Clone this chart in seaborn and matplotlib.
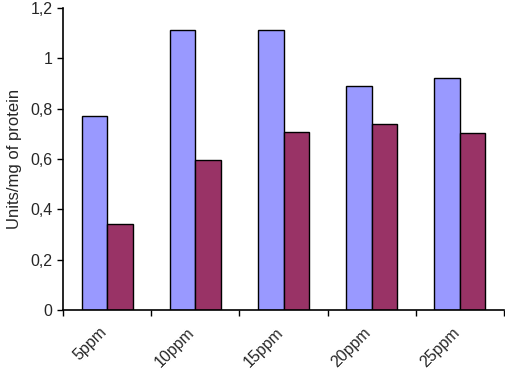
import pandas as pd
import matplotlib
matplotlib.use('Agg')
import matplotlib.pyplot as plt
import matplotlib.transforms as mtransforms
import seaborn as sns
from matplotlib.ticker import FixedLocator

categories = ['5ppm', '10ppm', '15ppm', '20ppm', '25ppm']
series_a = [0.772, 1.112, 1.112, 0.890, 0.920]
series_b = [0.343, 0.596, 0.708, 0.740, 0.703]
ytick_values = [0, 0.2, 0.4, 0.6, 0.8, 1.0, 1.2]
ytick_labels = ['0', '0,2', '0,4', '0,6', '0,8', '1', '1,2']

data = pd.DataFrame({
    'dose': categories * 2,
    'value': series_a + series_b,
    'series': ['a'] * len(categories) + ['b'] * len(categories),
})

sns.set_style('ticks')
plt.rcParams['font.family'] = ['Liberation Sans', 'DejaVu Sans']

fig = plt.figure(figsize=(5.05, 3.74), dpi=100)
ax = fig.add_axes([0.125, 0.171, 0.873, 0.808])

sns.barplot(data=data, x='dose', y='value', hue='series', order=categories,
            hue_order=['a', 'b'], palette=['#9999FF', '#993366'], saturation=1,
            width=0.58, edgecolor='black', linewidth=1.0, legend=False, ax=ax)

ax.set_xlim(-0.5, len(categories) - 0.5)
ax.set_ylim(0, 1.2)
ax.set_yticks(ytick_values)
ax.set_yticklabels(ytick_labels, fontsize=11.5)
ax.set_ylabel('Units/mg of protein', fontsize=12, labelpad=6)
ax.set_xlabel('')

# category labels at centres, tick marks between categories (Excel style)
ax.set_xticks(range(len(categories)))
ax.set_xticklabels(categories, rotation=45, ha='right', rotation_mode='anchor', fontsize=11.5)
ax.tick_params(axis='x', which='major', length=0, pad=6)
shift = mtransforms.ScaledTranslation(-6 / 72, -4.5 / 72, fig.dpi_scale_trans)
for lbl in ax.get_xticklabels():
    lbl.set_transform(lbl.get_transform() + shift)
ax.xaxis.set_minor_locator(FixedLocator([i - 0.5 for i in range(len(categories) + 1)]))
ax.tick_params(axis='x', which='minor', length=4, width=1, color='black')
ax.tick_params(axis='y', length=4, width=1, color='black')

sns.despine(ax=ax)
for side in ['left', 'bottom']:
    ax.spines[side].set_color('black')
    ax.spines[side].set_linewidth(1.2)

fig.savefig('out.png', dpi=100)
